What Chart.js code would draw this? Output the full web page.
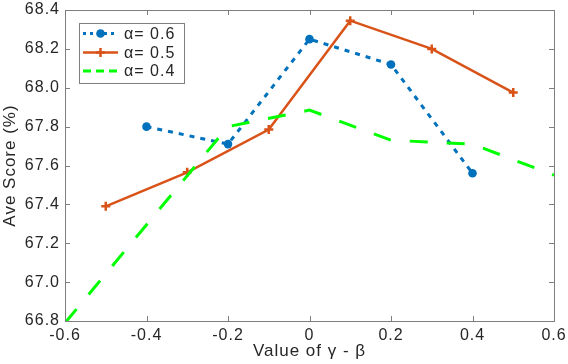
<!DOCTYPE html>
<html>
<head>
<meta charset="utf-8">
<script src="https://cdn.jsdelivr.net/npm/chart.js@4"></script>
<style>
  html, body { margin: 0; padding: 0; background: #fff; }
  #wrap { width: 568px; height: 364px; }
</style>
</head>
<body>
<div id="wrap"><canvas id="aveChart" width="568" height="364"></canvas></div>
<script>
// data
var seriesLabels = ['α= 0.6', 'α= 0.5', 'α= 0.4'];
var xA06 = [-0.4, -0.2, 0, 0.2, 0.4];
var yA06 = [67.80, 67.71, 68.25, 68.12, 67.56];
var xA05 = [-0.5, -0.3, -0.1, 0.1, 0.3, 0.5];
var yA05 = [67.39, 67.565, 67.785, 68.345, 68.20, 67.975];
var xA04 = [-0.6, -0.2, 0, 0.2, 0.4, 0.6];
var yA04 = [66.79, 67.80, 67.885, 67.73, 67.71, 67.55];
var xTicks = [-0.6, -0.4, -0.2, 0, 0.2, 0.4, 0.6];
var yTicks = [66.8, 67.0, 67.2, 67.4, 67.6, 67.8, 68.0, 68.2, 68.4];

var blue = '#0072BD', orange = '#D95319', green = '#00FF00';
var axisGray = '#7f7f7f', textDark = '#262626';
var fontFam = '"Liberation Sans", Arial, Helvetica, sans-serif';

function pts(xs, ys) {
    return xs.map(function(x, i) { return { x: x, y: ys[i] }; });
}

// box + inward tick marks, matlab style
var boxAxes = {
    id: 'boxAxes',
    beforeDraw: function(chart) {
        chart.ctx.letterSpacing = '1px';
    },
    afterDatasetsDraw: function(chart) {
        var ctx = chart.ctx, a = chart.chartArea;
        var sx = chart.scales.x, sy = chart.scales.y;
        ctx.save();
        ctx.strokeStyle = axisGray;
        ctx.lineWidth = 1;
        ctx.strokeRect(Math.round(a.left) + 0.5, Math.round(a.top) + 0.5,
            Math.round(a.right - a.left), Math.round(a.bottom - a.top));
        ctx.beginPath();
        xTicks.forEach(function(v) {
            var px = Math.round(sx.getPixelForValue(v)) + 0.5;
            ctx.moveTo(px, a.bottom); ctx.lineTo(px, a.bottom - 5);
            ctx.moveTo(px, a.top); ctx.lineTo(px, a.top + 5);
        });
        yTicks.forEach(function(v) {
            var py = Math.round(sy.getPixelForValue(v)) + 0.5;
            ctx.moveTo(a.left, py); ctx.lineTo(a.left + 5, py);
            ctx.moveTo(a.right, py); ctx.lineTo(a.right - 5, py);
        });
        ctx.stroke();
        ctx.restore();
    },
    afterDraw: function(chart) {
        // legend box in upper left
        var ctx = chart.ctx;
        var bx = 79, by = 23, bw = 105, bh = 60;
        ctx.save();
        ctx.fillStyle = '#fff';
        ctx.fillRect(bx, by, bw, bh);
        ctx.strokeStyle = axisGray;
        ctx.lineWidth = 1;
        ctx.strokeRect(bx + 0.5, by + 0.5, bw, bh);
        var rows = [33.5, 52.5, 71];
        var styles = [
            { c: blue, dash: [3, 4], w: 3, mark: 'circle' },
            { c: orange, dash: [], w: 2.5, mark: 'cross' },
            { c: green, dash: [8, 5], w: 3, mark: null }
        ];
        rows.forEach(function(ry, i) {
            var s = styles[i];
            ctx.strokeStyle = s.c;
            ctx.lineWidth = s.w;
            ctx.setLineDash(s.dash);
            ctx.beginPath();
            ctx.moveTo(83, ry); ctx.lineTo(118, ry);
            ctx.stroke();
            ctx.setLineDash([]);
            if (s.mark === 'circle') {
                ctx.fillStyle = s.c;
                ctx.beginPath(); ctx.arc(100.5, ry, 4.3, 0, Math.PI * 2); ctx.fill();
            } else if (s.mark === 'cross') {
                ctx.lineWidth = 2.5;
                ctx.beginPath();
                ctx.moveTo(96, ry); ctx.lineTo(105, ry);
                ctx.moveTo(100.5, ry - 4.5); ctx.lineTo(100.5, ry + 4.5);
                ctx.stroke();
            }
            ctx.fillStyle = textDark;
            ctx.font = '16px ' + fontFam;
            ctx.textBaseline = 'middle';
            ctx.textAlign = 'left';
            ctx.fillText(seriesLabels[i], 124, ry + 1);
        });
        ctx.restore();
    }
};

var ctx = document.getElementById('aveChart').getContext('2d');
var chart = new Chart(ctx, {
    type: 'line',
    data: {
        datasets: [{
            label: seriesLabels[0],
            data: pts(xA06, yA06),
            borderColor: blue,
            backgroundColor: blue,
            borderWidth: 3,
            borderDash: [5, 6],
            pointStyle: 'circle',
            pointRadius: 4.3,
            pointBorderWidth: 0,
            order: 3
        }, {
            label: seriesLabels[1],
            data: pts(xA05, yA05),
            borderColor: orange,
            backgroundColor: orange,
            borderWidth: 2.5,
            pointStyle: 'cross',
            pointRadius: 4.5,
            pointBorderWidth: 2.5,
            order: 2
        }, {
            label: seriesLabels[2],
            data: pts(xA04, yA04),
            borderColor: green,
            borderWidth: 3,
            borderDash: [18, 19],
            pointRadius: 0,
            order: 1
        }]
    },
    options: {
        responsive: false,
        animation: false,
        devicePixelRatio: 1,
        layout: { padding: { top: 10, right: 14, left: 0, bottom: 0 } },
        plugins: {
            legend: { display: false },
            tooltip: { enabled: false }
        },
        elements: { line: { tension: 0, fill: false } },
        scales: {
            x: {
                type: 'linear',
                min: -0.6, max: 0.6,
                grid: { display: false, drawTicks: false },
                border: { display: false },
                ticks: {
                    stepSize: 0.2,
                    padding: 5,
                    color: textDark,
                    font: { family: fontFam, size: 16 },
                    maxRotation: 0,
                    callback: function(v) {
                        return Math.abs(v) < 1e-9 ? '0' : Number(v).toFixed(1);
                    }
                },
                title: {
                    display: true,
                    text: 'Value of γ - β',
                    color: textDark,
                    font: { family: fontFam, size: 17 },
                    padding: { top: 0, bottom: 2 }
                },
                afterFit: function(scale) {
                    scale.height = 43;
                    scale.paddingLeft = 0;
                    scale.paddingRight = 0;
                }
            },
            y: {
                min: 66.8, max: 68.4,
                grid: { display: false, drawTicks: false },
                border: { display: false },
                ticks: {
                    stepSize: 0.2,
                    padding: 5,
                    color: textDark,
                    font: { family: fontFam, size: 16 },
                    callback: function(v) { return Number(v).toFixed(1); }
                },
                title: {
                    display: true,
                    text: 'Ave Score (%)',
                    color: textDark,
                    font: { family: fontFam, size: 17 },
                    padding: { top: 0, bottom: 0 }
                },
                afterFit: function(scale) {
                    scale.width = 65;
                    scale.paddingTop = 0;
                    scale.paddingBottom = 0;
                }
            }
        }
    },
    plugins: [boxAxes]
});
</script>
</body>
</html>
